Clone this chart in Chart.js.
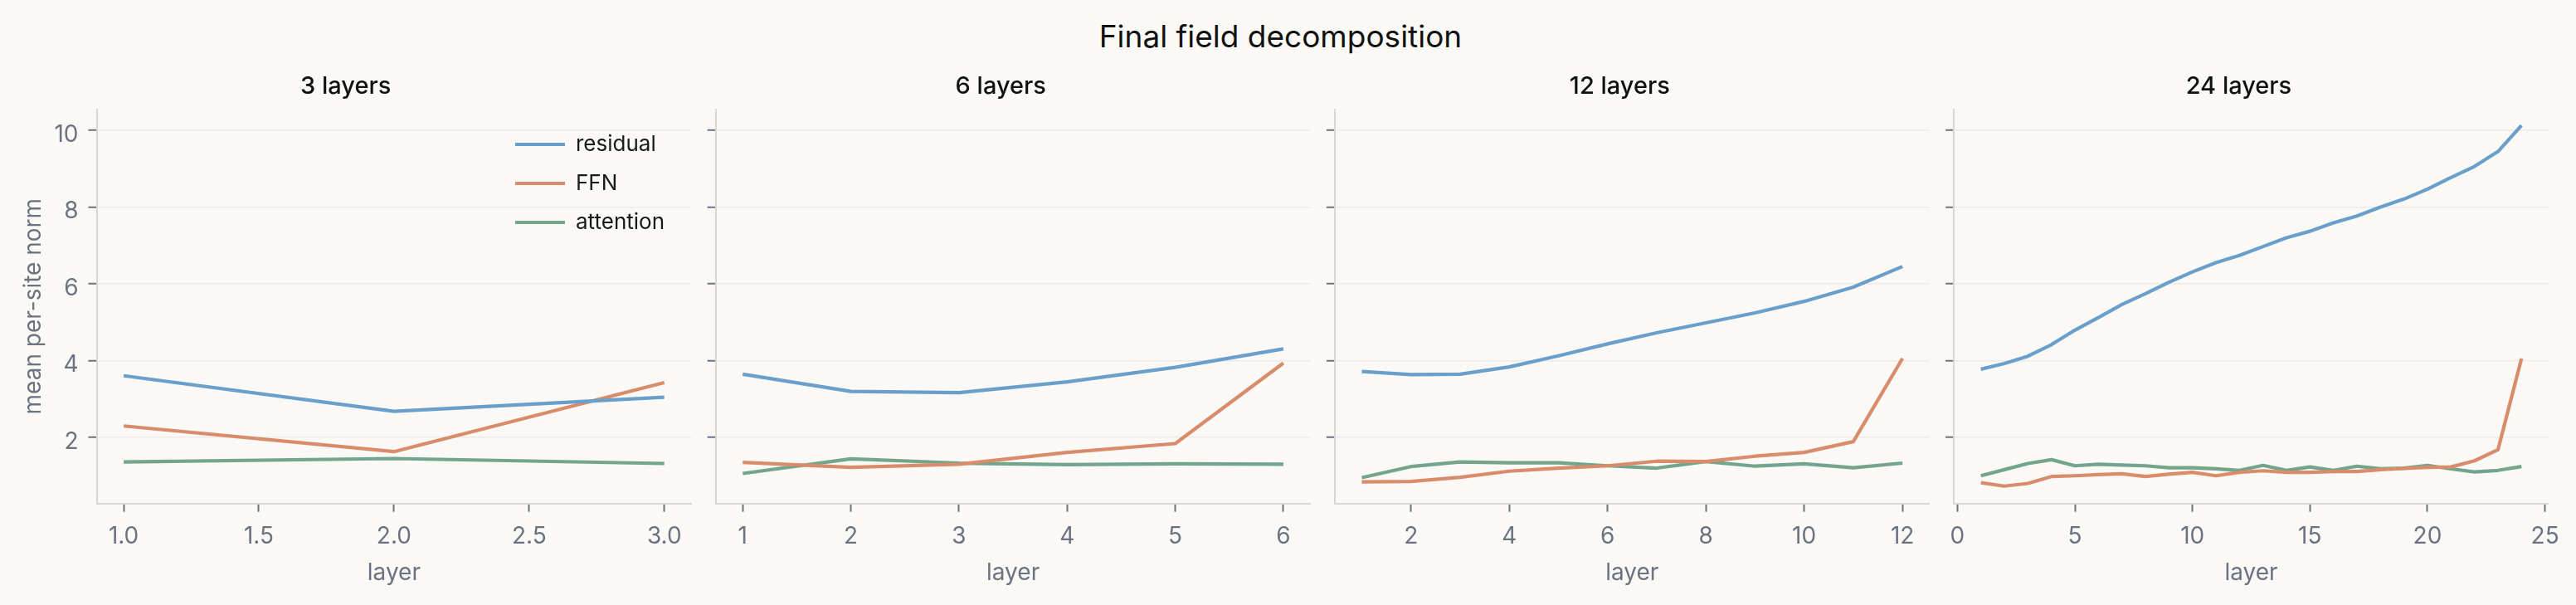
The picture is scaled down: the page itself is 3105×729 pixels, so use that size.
<!DOCTYPE html>
<html>
<head>
<meta charset="utf-8">
<script src="https://cdn.jsdelivr.net/npm/chart.js@4.4.1/dist/chart.umd.min.js"></script>
<style>
html,body{margin:0;padding:0;background:#faf9f5;}
#fig{position:relative;width:3105px;height:729px;background:#faf9f5;overflow:hidden;}
#suptitle{position:absolute;left:0;width:3087px;top:25.4px;text-align:center;font-family:Inter;font-size:37px;line-height:37px;color:#111111;white-space:nowrap;}
canvas{position:absolute;top:0;}
</style>
</head>
<body>
<div id="fig">
  <div id="suptitle">Final field decomposition</div>
  <canvas id="c0"></canvas>
  <canvas id="c1"></canvas>
  <canvas id="c2"></canvas>
  <canvas id="c3"></canvas>
</div>
<script>
// ---------------- DATA ----------------
const panelTitles = ['3 layers', '6 layers', '12 layers', '24 layers'];
const seriesNames = ['residual', 'FFN', 'attention'];

const layers3 = [1, 2, 3];
const residual3 = [3.60, 2.67, 3.04];
const ffn3 = [2.29, 1.62, 3.42];
const attention3 = [1.35, 1.44, 1.31];

const layers6 = [1, 2, 3, 4, 5, 6];
const residual6 = [3.64, 3.19, 3.16, 3.44, 3.82, 4.30];
const ffn6 = [1.34, 1.21, 1.29, 1.60, 1.83, 3.93];
const attention6 = [1.05, 1.43, 1.32, 1.28, 1.30, 1.29];

const layers12 = [1, 2, 3, 4, 5, 6, 7, 8, 9, 10, 11, 12];
const residual12 = [3.71, 3.63, 3.64, 3.83, 4.12, 4.43, 4.72, 4.98, 5.24, 5.54, 5.91, 6.45];
const ffn12 = [0.83, 0.84, 0.95, 1.11, 1.19, 1.25, 1.37, 1.36, 1.50, 1.60, 1.88, 4.05];
const attention12 = [0.94, 1.23, 1.35, 1.33, 1.33, 1.25, 1.19, 1.36, 1.24, 1.30, 1.20, 1.32];

const layers24 = [1, 2, 3, 4, 5, 6, 7, 8, 9, 10, 11, 12, 13, 14, 15, 16, 17, 18, 19, 20, 21, 22, 23, 24];
const residual24 = [3.77, 3.92, 4.11, 4.41, 4.79, 5.12, 5.46, 5.74, 6.04, 6.31, 6.55, 6.74,
                    6.97, 7.20, 7.37, 7.59, 7.77, 8.00, 8.21, 8.47, 8.77, 9.06, 9.45, 10.13];
const ffn24 = [0.81, 0.72, 0.79, 0.97, 0.99, 1.02, 1.04, 0.97, 1.03, 1.08, 0.99, 1.08,
               1.12, 1.08, 1.08, 1.10, 1.10, 1.15, 1.18, 1.21, 1.22, 1.38, 1.67, 4.05];
const attention24 = [0.99, 1.15, 1.31, 1.41, 1.25, 1.29, 1.27, 1.25, 1.20, 1.20, 1.17, 1.13,
                     1.26, 1.13, 1.22, 1.13, 1.24, 1.17, 1.19, 1.26, 1.17, 1.09, 1.13, 1.23];

const xTicks3 = [1.0, 1.5, 2.0, 2.5, 3.0];
const xTicks6 = [1, 2, 3, 4, 5, 6];
const xTicks12 = [2, 4, 6, 8, 10, 12];
const xTicks24 = [0, 5, 10, 15, 20, 25];
const yTicks = [2, 4, 6, 8, 10];

const xRanges = [[0.9, 3.1], [0.75, 6.25], [0.45, 12.55], [-0.15, 25.15]];
const yRange = [0.266, 10.554];

// ---------------- STYLE / LAYOUT ----------------
const seriesColors = ['#6b9fcb', '#d98c6b', '#72a58b'];
const FIG_H = 729;
const PLOT_TOP = 131.6;
const PLOT_BOTTOM = 606.7;
const PLOT_W = 716.8;
const plotLefts = [116.5, 862.7, 1608.9, 2355.1];
const yAxisWidths = [116.5, 30, 30, 30];
const RIGHT_PAD = 40;
const TICK_COLOR = '#6b7280';
const SPINE_COLOR = '#d9d7d2';
const GRID_COLOR = '#ecebe7';
const FONT = 'Inter';

const panels = [
  {xs: layers3, series: [residual3, ffn3, attention3], ticks: xTicks3, dec: 1},
  {xs: layers6, series: [residual6, ffn6, attention6], ticks: xTicks6, dec: 0},
  {xs: layers12, series: [residual12, ffn12, attention12], ticks: xTicks12, dec: 0},
  {xs: layers24, series: [residual24, ffn24, attention24], ticks: xTicks24, dec: 0}
];

const legendPlace = {
  id: 'legendPlace',
  afterLayout(chart) {
    const lg = chart.legend;
    if (!lg) return;
    const w = lg.width, h = lg.height;
    lg.left = 600; lg.top = 140;
    lg.right = lg.left + w; lg.bottom = lg.top + h;
  }
};

panels.forEach((p, i) => {
  const canvas = document.getElementById('c' + i);
  const cLeft = Math.round(plotLefts[i] - yAxisWidths[i]);
  const yw = plotLefts[i] - cLeft;
  const cWidth = Math.ceil(yw + PLOT_W + RIGHT_PAD);
  const rPad = cWidth - yw - PLOT_W;
  canvas.width = cWidth;
  canvas.height = FIG_H;
  canvas.style.left = cLeft + 'px';
  canvas.style.width = cWidth + 'px';
  canvas.style.height = FIG_H + 'px';

  const datasets = seriesNames.map((name, k) => ({
    label: name,
    data: p.xs.map((x, j) => ({x: x, y: p.series[k][j]})),
    borderColor: seriesColors[k],
    backgroundColor: seriesColors[k],
    borderWidth: 4.2,
    pointRadius: 0,
    pointHoverRadius: 0,
    tension: 0,
    borderJoinStyle: 'round',
    fill: false
  }));

  new Chart(canvas, {
    type: 'line',
    data: {datasets: datasets},
    plugins: i === 0 ? [legendPlace] : [],
    options: {
      responsive: false,
      animation: false,
      events: [],
      layout: {padding: {left: 0, right: rPad, top: 0, bottom: 0}},
      plugins: {
        title: {
          display: true,
          text: panelTitles[i],
          color: '#111111',
          font: {family: FONT, size: 29, weight: '500'},
          padding: {top: 86.6, bottom: 10.2}
        },
        legend: i === 0 ? {
          display: true,
          position: 'chartArea',
          align: 'start',
          labels: {
            usePointStyle: true,
            pointStyle: 'line',
            pointStyleWidth: 60,
            boxHeight: 26,
            padding: 21,
            color: '#1a1a1a',
            font: {family: FONT, size: 26}
          }
        } : {display: false},
        tooltip: {enabled: false}
      },
      scales: {
        x: {
          type: 'linear',
          min: xRanges[i][0],
          max: xRanges[i][1],
          afterBuildTicks: (s) => { s.ticks = p.ticks.map(v => ({value: v})); },
          afterFit: (s) => { s.height = FIG_H - PLOT_BOTTOM; },
          ticks: {
            autoSkip: false,
            maxRotation: 0,
            padding: 13,
            color: TICK_COLOR,
            font: {family: FONT, size: 28},
            callback: (v) => Number(v).toFixed(p.dec)
          },
          grid: {display: true, drawOnChartArea: false, drawTicks: true, tickLength: 10, tickColor: TICK_COLOR, tickWidth: 2},
          border: {display: true, color: SPINE_COLOR, width: 2},
          title: {
            display: true, text: 'layer', color: TICK_COLOR,
            font: {family: FONT, size: 28},
            padding: {top: 0, bottom: 21.2}
          }
        },
        y: {
          type: 'linear',
          min: yRange[0],
          max: yRange[1],
          afterBuildTicks: (s) => { s.ticks = yTicks.map(v => ({value: v})); },
          afterFit: (s) => { s.width = yw; },
          ticks: {
            display: i === 0,
            padding: 12,
            labelOffset: 5.5,
            color: TICK_COLOR,
            font: {family: FONT, size: 28},
            callback: (v) => String(v)
          },
          grid: {color: GRID_COLOR, lineWidth: 1.5, drawTicks: true, tickLength: 10, tickColor: TICK_COLOR, tickWidth: 2},
          border: {display: true, color: SPINE_COLOR, width: 2},
          title: i === 0 ? {
            display: true, text: 'mean per-site norm', color: TICK_COLOR,
            font: {family: FONT, size: 28},
            padding: {top: 24.2, bottom: 0}
          } : {display: false}
        }
      }
    }
  });
});
</script>
</body>
</html>
